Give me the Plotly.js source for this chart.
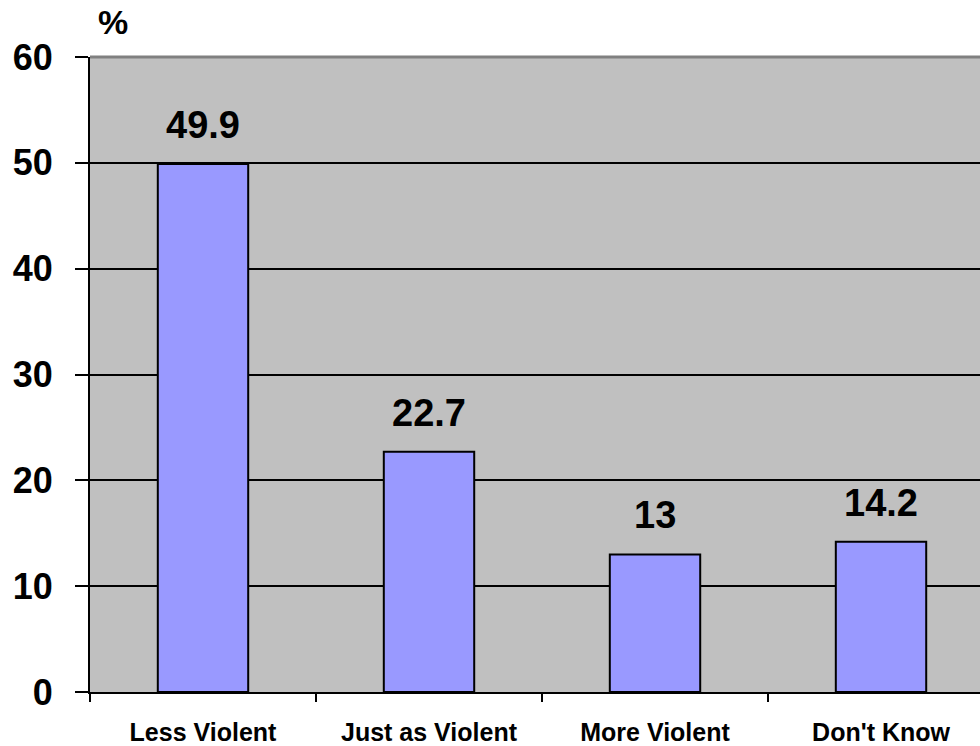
<!DOCTYPE html>
<html>
<head>
<meta charset="utf-8">
<script src="https://cdn.plot.ly/plotly-3.0.1.min.js"></script>
<style>
  html, body { margin: 0; padding: 0; background: #ffffff; }
  #chart { width: 980px; height: 746px; }
</style>
</head>
<body>
<div id="chart"></div>
<script>
// Survey answers and their shares (%)
const categories = ["Less Violent", "Just as Violent", "More Violent", "Don't Know"];
const percentages = [49.9, 22.7, 13, 14.2];
const valueLabels = ["49.9", "22.7", "13", "14.2"];
const yTickValues = [0, 10, 20, 30, 40, 50, 60];

const FONT = "Liberation Sans, Arial, sans-serif";

const bars = {
  type: "bar",
  x: categories,
  y: percentages,
  width: 0.4,
  marker: { color: "#9999ff", line: { color: "#000000", width: 2 } },
  hoverinfo: "x+y"
};

// Value labels floating above each bar
const valueNotes = categories.map((c, i) => ({
  x: c, y: percentages[i], xref: "x", yref: "y",
  text: valueLabels[i], showarrow: false,
  yanchor: "bottom", yshift: 16,
  font: { family: FONT, size: 38, color: "#000000", weight: "bold" }
}));

const layout = {
  width: 980, height: 746,
  margin: { l: 90, r: 0, t: 57, b: 54, pad: 0 },
  paper_bgcolor: "#ffffff",
  plot_bgcolor: "#c0c0c0",
  showlegend: false,
  bargap: 0.6,
  font: { family: FONT, color: "#000000" },
  xaxis: {
    type: "category",
    range: [-0.5, 3.438],
    tickson: "boundaries",
    ticks: "outside", ticklen: 8, tickwidth: 2, tickcolor: "#000000",
    showline: true, linecolor: "#000000", linewidth: 2,
    showgrid: false, zeroline: false,
    tickfont: { family: FONT, size: 25, color: "#000000", weight: "bold" },
    ticklabelstandoff: 17
  },
  yaxis: {
    range: [0, 60],
    tickvals: yTickValues,
    ticktext: yTickValues.map(String),
    ticks: "outside", ticklen: 13, tickwidth: 2, tickcolor: "#000000",
    showline: true, linecolor: "#000000", linewidth: 2,
    showgrid: true, gridcolor: "#000000", gridwidth: 2,
    zeroline: false,
    tickfont: { family: FONT, size: 36, color: "#000000", weight: "bold" },
    ticklabelstandoff: 15
  },
  shapes: [
    // grey frame line along the top of the plot area
    { type: "line", xref: "paper", yref: "paper", x0: 0, x1: 1, y0: 1, y1: 1,
      line: { color: "#808080", width: 3 } }
  ],
  annotations: [
    { x: 0.026, y: 1, xref: "paper", yref: "paper", yshift: 14,
      xanchor: "center", yanchor: "bottom", text: "%", showarrow: false,
      font: { family: FONT, size: 34, color: "#000000", weight: "bold" } }
  ].concat(valueNotes)
};

Plotly.newPlot("chart", [bars], layout, { displayModeBar: false, staticPlot: true });
</script>
</body>
</html>
